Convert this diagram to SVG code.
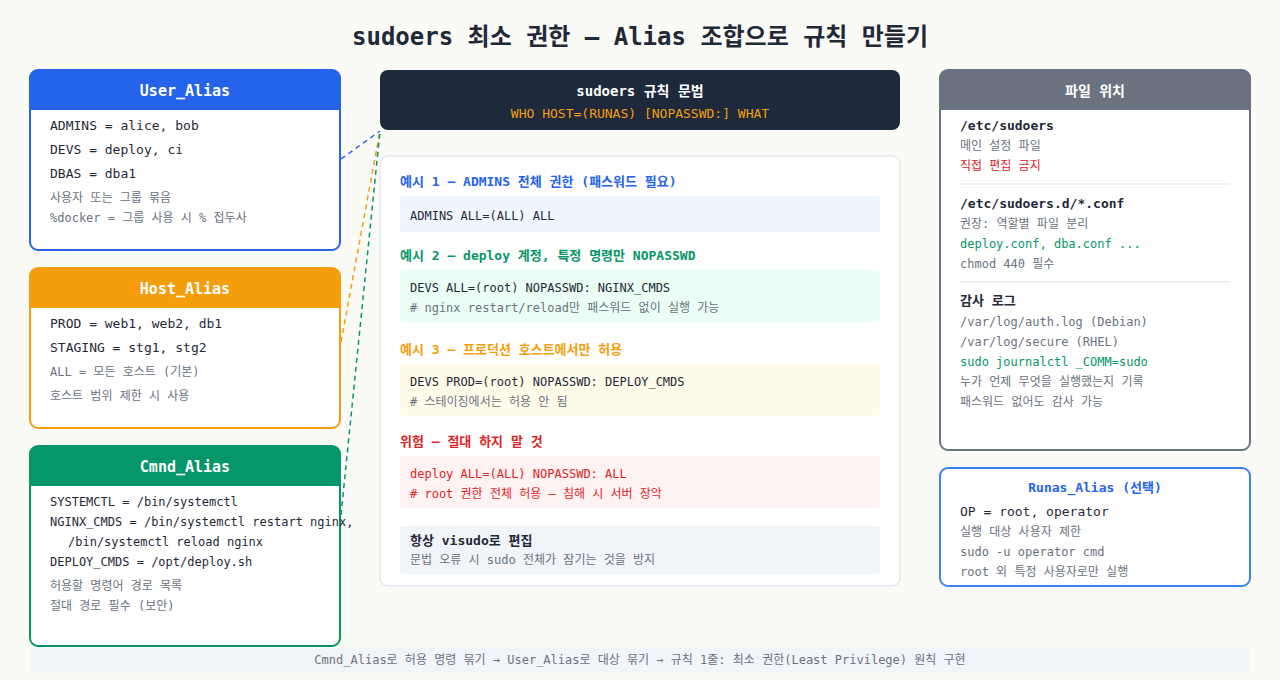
<svg xmlns="http://www.w3.org/2000/svg" width="1280" height="680" viewBox="0 0 1280 680">
<style>
text{font-family:"DejaVu Sans Mono","Noto Sans CJK KR",monospace}
.t{font-size:24px;font-weight:bold;fill:#1f2937}
.h{font-size:15px;font-weight:bold;fill:#fff}
.c{font-size:13px;fill:#1f2937}
.c2{font-size:12px;fill:#1f2937}
.g{font-size:12px;fill:#6b7280}
.b{font-size:13px;font-weight:bold;fill:#1f2937}
.hd{font-size:13px;font-weight:bold}
.card{fill:#fff;stroke-width:2}
.cn{fill:none;stroke-width:1.5;stroke-dasharray:5 4}
</style>
<rect width="1280" height="680" fill="#fafaf7"/>
<text class="t" x="640" y="45" text-anchor="middle">sudoers 최소 권한 — Alias 조합으로 규칙 만들기</text>
<g id="connectors">
<line class="cn" x1="341" y1="159" x2="380" y2="131" stroke="#2563eb"/>
<line class="cn" x1="341" y1="342" x2="380" y2="131" stroke="#f59e0b"/>
<line class="cn" x1="341" y1="515" x2="380" y2="131" stroke="#059669"/>
</g>
<g id="user_alias">
<rect class="card" x="30" y="70" width="310" height="180" rx="8" stroke="#2563eb"/>
<path d="M38 70h294a8 8 0 0 1 8 8v32h-310v-32a8 8 0 0 1 8-8z" fill="#2563eb"/>
<text class="h" x="185" y="96" text-anchor="middle">User_Alias</text>
<text class="c" x="50" y="130">ADMINS = alice, bob</text>
<text class="c" x="50" y="154">DEVS = deploy, ci</text>
<text class="c" x="50" y="178">DBAS = dba1</text>
<text class="g" x="50" y="202">사용자 또는 그룹 묶음</text>
<text class="g" x="50" y="222">%docker = 그룹 사용 시 % 접두사</text>
</g>
<g id="host_alias">
<rect class="card" x="30" y="268" width="310" height="160" rx="8" stroke="#f59e0b"/>
<path d="M38 268h294a8 8 0 0 1 8 8v32h-310v-32a8 8 0 0 1 8-8z" fill="#f59e0b"/>
<text class="h" x="185" y="294" text-anchor="middle">Host_Alias</text>
<text class="c" x="50" y="328">PROD = web1, web2, db1</text>
<text class="c" x="50" y="352">STAGING = stg1, stg2</text>
<text class="g" x="50" y="376">ALL = 모든 호스트 (기본)</text>
<text class="g" x="50" y="400">호스트 범위 제한 시 사용</text>
</g>
<g id="cmnd_alias">
<rect class="card" x="30" y="446" width="310" height="200" rx="8" stroke="#059669"/>
<path d="M38 446h294a8 8 0 0 1 8 8v32h-310v-32a8 8 0 0 1 8-8z" fill="#059669"/>
<text class="h" x="185" y="472" text-anchor="middle">Cmnd_Alias</text>
<text class="c2" x="50" y="506">SYSTEMCTL = /bin/systemctl</text>
<text class="c2" x="50" y="526">NGINX_CMDS = /bin/systemctl restart nginx,</text>
<text class="c2" x="68" y="546">/bin/systemctl reload nginx</text>
<text class="c2" x="50" y="566">DEPLOY_CMDS = /opt/deploy.sh</text>
<text class="g" x="50" y="590">허용할 명령어 경로 목록</text>
<text class="g" x="50" y="610">절대 경로 필수 (보안)</text>
</g>
<g id="syntax">
<rect x="380" y="70" width="520" height="60" rx="8" fill="#1e293b"/>
<text x="640" y="96" text-anchor="middle" style="font-size:14px;font-weight:bold;fill:#fff">sudoers 규칙 문법</text>
<text x="640" y="118" text-anchor="middle" style="font-size:13px;fill:#f59e0b">WHO HOST=(RUNAS) [NOPASSWD:] WHAT</text>
</g>
<g id="examples">
<rect x="380" y="156" width="520" height="430" rx="8" fill="#fff" stroke="#e5e7eb" stroke-width="1.5"/>
<text class="hd" x="400" y="186" fill="#2563eb">예시 1 — ADMINS 전체 권한 (패스워드 필요)</text>
<rect x="400" y="196" width="480" height="36" rx="4" fill="#eff6ff"/>
<text class="c2" x="410" y="220">ADMINS ALL=(ALL) ALL</text>
<text class="hd" x="400" y="260" fill="#059669">예시 2 — deploy 계정, 특정 명령만 NOPASSWD</text>
<rect x="400" y="270" width="480" height="52" rx="4" fill="#ecfdf5"/>
<text class="c2" x="410" y="292">DEVS ALL=(root) NOPASSWD: NGINX_CMDS</text>
<text class="g" x="410" y="312"># nginx restart/reload만 패스워드 없이 실행 가능</text>
<text class="hd" x="400" y="354" fill="#f59e0b">예시 3 — 프로덕션 호스트에서만 허용</text>
<rect x="400" y="364" width="480" height="52" rx="4" fill="#fffbeb"/>
<text class="c2" x="410" y="386">DEVS PROD=(root) NOPASSWD: DEPLOY_CMDS</text>
<text class="g" x="410" y="406"># 스테이징에서는 허용 안 됨</text>
<text class="hd" x="400" y="446" fill="#dc2626">위험 — 절대 하지 말 것</text>
<rect x="400" y="456" width="480" height="52" rx="4" fill="#fef2f2"/>
<text class="c2" x="410" y="478" style="fill:#dc2626">deploy ALL=(ALL) NOPASSWD: ALL</text>
<text class="c2" x="410" y="498" style="fill:#dc2626"># root 권한 전체 허용 — 침해 시 서버 장악</text>
<rect x="400" y="526" width="480" height="48" rx="4" fill="#f1f5f9"/>
<text class="b" x="410" y="545">항상 visudo로 편집</text>
<text class="g" x="410" y="564">문법 오류 시 sudo 전체가 잠기는 것을 방지</text>
</g>
<g id="file_location">
<rect class="card" x="940" y="70" width="310" height="380" rx="8" stroke="#6b7280"/>
<path d="M948 70h294a8 8 0 0 1 8 8v32h-310v-32a8 8 0 0 1 8-8z" fill="#6b7280"/>
<text x="1095" y="96" text-anchor="middle" style="font-size:14px;font-weight:bold;fill:#fff">파일 위치</text>
<text class="b" x="960" y="130">/etc/sudoers</text>
<text class="g" x="960" y="150">메인 설정 파일</text>
<text class="g" x="960" y="170" style="fill:#dc2626">직접 편집 금지</text>
<line x1="960" y1="184" x2="1230" y2="184" stroke="#eceae4" stroke-width="1.5"/>
<text class="b" x="960" y="208">/etc/sudoers.d/*.conf</text>
<text class="g" x="960" y="228">권장: 역할별 파일 분리</text>
<text class="g" x="960" y="248" style="fill:#059669">deploy.conf, dba.conf ...</text>
<text class="g" x="960" y="268">chmod 440 필수</text>
<line x1="960" y1="282" x2="1230" y2="282" stroke="#eceae4" stroke-width="1.5"/>
<text class="b" x="960" y="305">감사 로그</text>
<text class="g" x="960" y="326">/var/log/auth.log (Debian)</text>
<text class="g" x="960" y="346">/var/log/secure (RHEL)</text>
<text class="g" x="960" y="366" style="fill:#059669">sudo journalctl _COMM=sudo</text>
<text class="g" x="960" y="386">누가 언제 무엇을 실행했는지 기록</text>
<text class="g" x="960" y="406">패스워드 없어도 감사 가능</text>
</g>
<g id="runas_alias">
<rect class="card" x="940" y="468" width="310" height="118" rx="8" stroke="#3b82f6"/>
<text x="1095" y="492" text-anchor="middle" style="font-size:13px;font-weight:bold;fill:#2563eb">Runas_Alias (선택)</text>
<text class="c" x="960" y="516">OP = root, operator</text>
<text class="g" x="960" y="536">실행 대상 사용자 제한</text>
<text class="g" x="960" y="556">sudo -u operator cmd</text>
<text class="g" x="960" y="576">root 외 특정 사용자로만 실행</text>
</g>
<g id="footer">
<rect x="30" y="648" width="1220" height="24" rx="4" fill="#f1f5f9"/>
<text class="g" x="640" y="664" text-anchor="middle">Cmnd_Alias로 허용 명령 묶기 → User_Alias로 대상 묶기 → 규칙 1줄: 최소 권한(Least Privilege) 원칙 구현</text>
</g>
</svg>
